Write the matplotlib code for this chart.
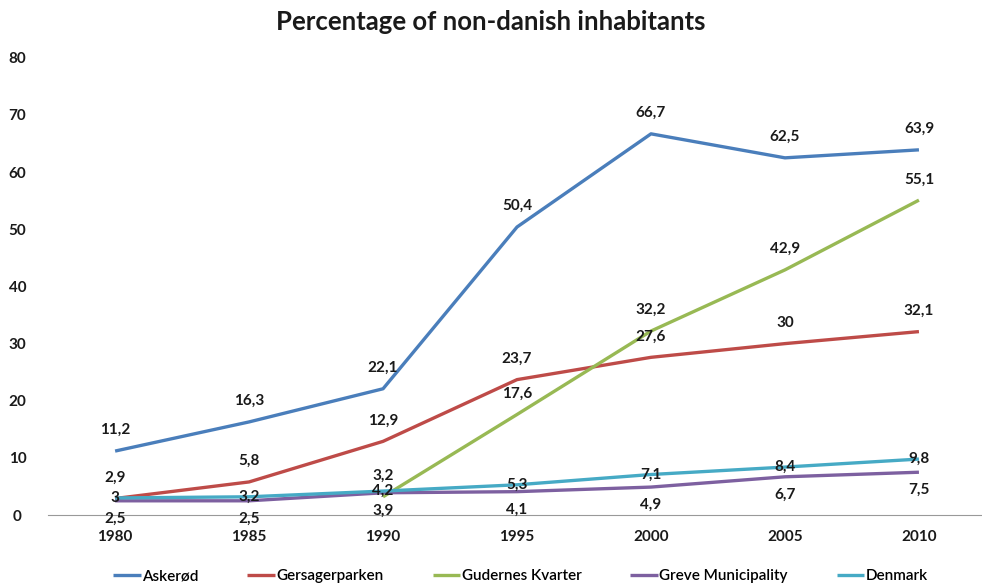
import matplotlib
matplotlib.use("Agg")
from matplotlib import pyplot as plt

years = ['1980', '1985', '1990', '1995', '2000', '2005', '2010']
askerod = [11.2, 16.3, 22.1, 50.4, 66.7, 62.5, 63.9]
gersager = [2.9, 5.8, 12.9, 23.7, 27.6, 30, 32.1]
gudernes = [None, None, 3.2, 17.6, 32.2, 42.9, 55.1]
greve = [2.5, 2.5, 3.9, 4.1, 4.9, 6.7, 7.5]
denmark = [3, 3.2, 4.2, 5.3, 7.1, 8.4, 9.8]

names = ['Askerød', 'Gersagerparken', 'Gudernes Kvarter', 'Greve Municipality', 'Denmark']
colors = ['#4A7EBB', '#BE4B48', '#98B954', '#7D60A0', '#46AAC5']
# label offset in points: above, above, above, below, centered
offsets = [15, 15, 15, -13, 0]

plt.rcParams['font.family'] = ['Lato', 'DejaVu Sans']

fig = plt.figure(figsize=(9.82, 5.84), dpi=100)
ax = fig.add_axes([0.049, 0.118, 0.955, 0.783])

x = list(range(len(years)))
series = [askerod, gersager, gudernes, greve, denmark]
for vals, name, c in zip(series, names, colors):
    xs = [i for i, v in zip(x, vals) if v is not None]
    ys = [v for v in vals if v is not None]
    ax.plot(xs, ys, color=c, lw=2.4, label=name, solid_capstyle='butt')

for vals, off in zip(series, offsets):
    for i, v in zip(x, vals):
        if v is None:
            continue
        txt = ('%g' % v).replace('.', ',')
        ax.annotate(txt, (i, v), xytext=(0, off), textcoords='offset points',
                    ha='center', va='center', fontsize=11, fontweight='bold',
                    color='#1a1a1a', zorder=5)

ax.set_xlim(-0.5, 6.5)
ax.set_ylim(0, 80)
ax.set_yticks(range(0, 81, 10))
ax.set_xticks(x)
ax.set_xticklabels(years)
for s in ['top', 'right', 'left']:
    ax.spines[s].set_visible(False)
ax.spines['bottom'].set_color('#999999')
ax.tick_params(axis='both', length=0, labelsize=11)
ax.tick_params(axis='x', pad=11)
for lab in ax.get_xticklabels() + ax.get_yticklabels():
    lab.set_fontweight('bold')
    lab.set_color('#1a1a1a')
for lab in ax.get_yticklabels():
    lab.set_horizontalalignment('center')
ax.tick_params(axis='y', pad=22)

fig.text(0.5, 0.962, 'Percentage of non-danish inhabitants', ha='center', va='center',
         fontsize=18.5, fontweight='bold', color='#1a1a1a')

fig.legend(loc='center', bbox_to_anchor=(0.53, 0.013), ncol=5, frameon=False,
           fontsize=11, handlelength=1.8, handletextpad=0.1, columnspacing=3.2,
           prop={'weight': 'semibold', 'size': 11})

fig.savefig('out.png', dpi=100)
